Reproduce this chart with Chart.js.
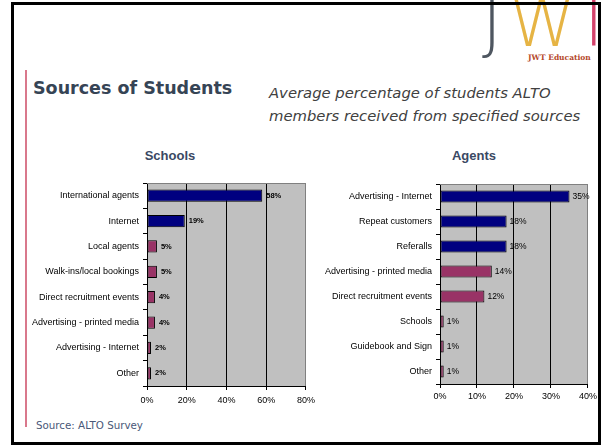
<!DOCTYPE html>
<html>
<head>
<meta charset="utf-8">
<script src="https://cdn.jsdelivr.net/npm/chart.js@4"></script>
<style>
  body { margin: 0; width: 605px; height: 446px; background: #fff; position: relative; overflow: hidden; }
  .abs { position: absolute; white-space: nowrap; }
  #frame { left: 11px; top: 2px; width: 590px; height: 443px; border: 3px solid #000; box-sizing: border-box; z-index: 5; }
  #pinkline { left: 25px; top: 70px; width: 2px; height: 357px; background: #d9788c; }
  #title { left: 33px; top: 78px; font: bold 17.5px "DejaVu Sans", Verdana, sans-serif; color: #364455; }
  #subtitle { left: 269px; top: 82px; font: italic 14.8px "DejaVu Sans", Verdana, sans-serif; color: #404040; line-height: 22.5px; }
  #source { left: 36px; top: 419px; font: 10.3px "DejaVu Sans", Verdana, sans-serif; color: #4a5878; }
  .ctitle { top: 148px; font: bold 13px "Liberation Sans", Arial, sans-serif; color: #3a4863; width: 120px; text-align: center; }
  .logo { top: -12px; font: 200 68px "DejaVu Sans", sans-serif; line-height: 70px; }
  #edu { left: 528px; top: 53px; font: bold 7.5px "DejaVu Serif", serif; color: #b5482a; }
  canvas { position: absolute; }
</style>
</head>
<body>
<div id="frame" class="abs"></div>
<div id="pinkline" class="abs"></div>
<div class="abs logo" style="left:482px; color:#4e5660;">J</div>
<div class="abs logo" style="left:509px; color:#e6b444;">W</div>
<div class="abs logo" style="left:573px; color:#d3426b;">T</div>
<div id="edu" class="abs">JWT Education</div>
<div id="title" class="abs">Sources of Students</div>
<div id="subtitle" class="abs">Average percentage of students ALTO<br>members received from specified sources</div>
<div class="abs ctitle" style="left:110px;">Schools</div>
<div class="abs ctitle" style="left:414px;">Agents</div>
<div id="source" class="abs">Source: ALTO Survey</div>

<canvas id="schoolsChart" width="300" height="245" style="left:20px; top:170px;"></canvas>
<canvas id="agentsChart" width="290" height="245" style="left:310px; top:170px;"></canvas>

<script>
// Schools data
const schoolLabels = ["International agents", "Internet", "Local agents", "Walk-ins/local bookings",
    "Direct recruitment events", "Advertising - printed media", "Advertising - Internet", "Other"];
const schoolValues = [58, 19, 5, 5, 4, 4, 2, 2];
const schoolTicks = [0, 20, 40, 60, 80];

// Agents data
const agentLabels = ["Advertising - Internet", "Repeat customers", "Referalls", "Advertising - printed media",
    "Direct recruitment events", "Schools", "Guidebook and Sign", "Other"];
const agentValues = [35, 18, 18, 14, 12, 1, 1, 1];
const agentTicks = [0, 10, 20, 30, 40];

const NAVY = "#000080";
const PLUM = "#993366";

// fondo gris del área de trazado + borde superior
const plotBg = {
    id: "plotBg",
    beforeDraw(chart) {
        const a = chart.chartArea, c = chart.ctx;
        c.save();
        c.fillStyle = "#c0c0c0";
        c.fillRect(a.left, a.top, a.right - a.left, a.bottom - a.top);
        c.restore();
    },
    afterDraw(chart) {
        const a = chart.chartArea, c = chart.ctx;
        c.save();
        c.strokeStyle = "#808080";
        c.lineWidth = 1;
        c.beginPath();
        c.moveTo(a.left, a.top + 0.5);
        c.lineTo(a.right, a.top + 0.5);
        c.stroke();
        c.restore();
    }
};

// etiquetas de valor al final de cada barra
const valueLabels = {
    id: "valueLabels",
    afterDatasetsDraw(chart, args, opts) {
        const c = chart.ctx;
        const meta = chart.getDatasetMeta(0);
        c.save();
        c.font = opts.font;
        c.fillStyle = "#000";
        c.textBaseline = "middle";
        meta.data.forEach((bar, i) => {
            c.fillText(chart.data.datasets[0].data[i] + "%", bar.x + opts.gap, bar.y);
        });
        c.restore();
    }
};

function makeChart(id, labels, values, ticks, navyCount, o) {
    const max = ticks[ticks.length - 1];
    return new Chart(document.getElementById(id), {
        type: "bar",
        data: {
            labels: labels,
            datasets: [{
                data: values,
                backgroundColor: values.map((v, i) => i < navyCount ? NAVY : PLUM),
                borderColor: "#000",
                borderWidth: 1,
                borderSkipped: false,
                barPercentage: 0.48,
                categoryPercentage: 1,
            }],
        },
        options: {
            indexAxis: "y",
            responsive: false,
            animation: false,
            events: [],
            layout: { padding: { top: o.top, right: o.right, left: 0, bottom: 0 } },
            plugins: {
                legend: { display: false },
                tooltip: { enabled: false },
                valueLabels: { font: o.valueFont, gap: o.gap },
            },
            scales: {
                x: {
                    min: 0, max: max,
                    afterBuildTicks: (s) => { s.ticks = ticks.map(v => ({ value: v })); },
                    afterFit: (s) => { s.height = o.xHeight; },
                    grid: {
                        color: (ctx) => ctx.tick && ctx.tick.value === max ? "#808080" : "#000",
                        tickColor: "#000",
                        tickLength: 4,
                        lineWidth: 1,
                    },
                    border: { color: "#000", width: 1 },
                    ticks: {
                        callback: (v) => v + "%",
                        font: { family: "Liberation Sans, Arial", size: 9 },
                        color: "#000",
                        padding: o.xPad,
                        maxRotation: 0,
                        autoSkip: false,
                    },
                },
                y: {
                    afterFit: (s) => { s.width = o.yWidth; },
                    grid: {
                        drawOnChartArea: false,
                        drawTicks: true,
                        tickLength: 4,
                        tickColor: "#000",
                        offset: true,
                    },
                    border: { color: "#000", width: 1 },
                    ticks: {
                        font: { family: "Liberation Sans, Arial", size: 9 },
                        color: "#000",
                        padding: 4,
                        autoSkip: false,
                    },
                },
            },
        },
        plugins: [plotBg, valueLabels],
    });
}

makeChart("schoolsChart", schoolLabels, schoolValues, schoolTicks, 2, {
    top: 13, right: 10, yWidth: 127, xHeight: 29, xPad: 5,
    valueFont: "bold 7.5px 'Liberation Sans', Arial", gap: 4,
});
makeChart("agentsChart", agentLabels, agentValues, agentTicks, 3, {
    top: 14, right: 11, yWidth: 130, xHeight: 31, xPad: 3,
    valueFont: "8.5px 'Liberation Sans', Arial", gap: 3,
});
</script>
</body>
</html>
